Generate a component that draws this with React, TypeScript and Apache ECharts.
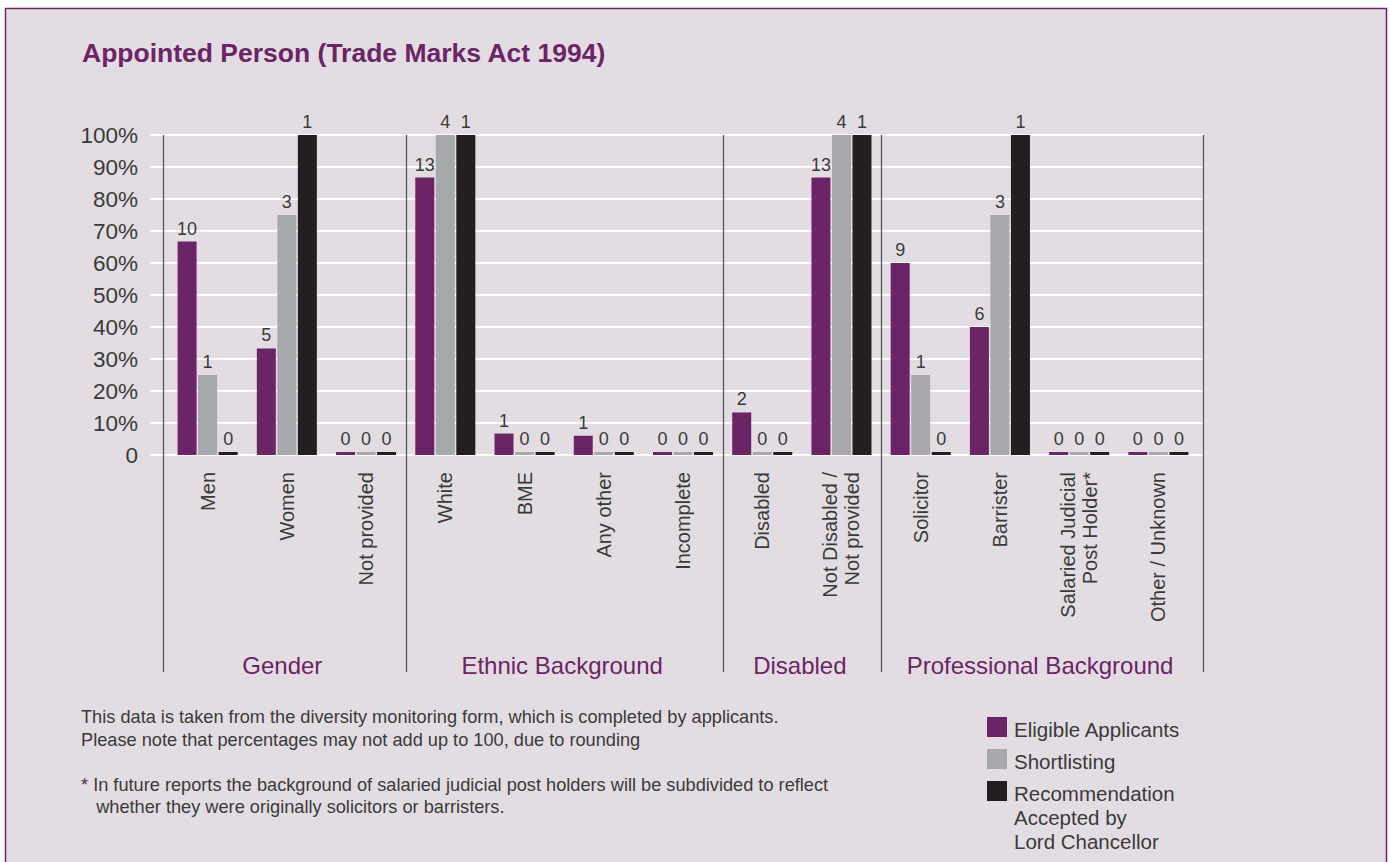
import React, { useEffect, useRef } from "react";
import * as echarts from "echarts";

const categories = [
  "Men",
  "Women",
  "Not provided",
  "White",
  "BME",
  "Any other",
  "Incomplete",
  "Disabled",
  "Not Disabled /\nNot provided",
  "Solicitor",
  "Barrister",
  "Salaried Judicial\nPost Holder*",
  "Other / Unknown",
];
const groupNames = ["Gender", "Ethnic Background", "Disabled", "Professional Background"];
const groupSizes = [3, 4, 2, 4];

const seriesNames = ["Eligible Applicants", "Shortlisting", "Recommendation\nAccepted by\nLord Chancellor"];
const seriesColors = ["#6b2466", "#a7a8ab", "#231f20"];

const eligiblePct = [66.7, 33.3, 0, 86.7, 6.7, 6, 0, 13.3, 86.7, 60, 40, 0, 0];
const eligibleCount = [10, 5, 0, 13, 1, 1, 0, 2, 13, 9, 6, 0, 0];
const shortlistPct = [25, 75, 0, 100, 0, 0, 0, 0, 100, 25, 75, 0, 0];
const shortlistCount = [1, 3, 0, 4, 0, 0, 0, 0, 4, 1, 3, 0, 0];
const recommendPct = [0, 100, 0, 100, 0, 0, 0, 0, 100, 0, 100, 0, 0];
const recommendCount = [0, 1, 0, 1, 0, 0, 0, 0, 1, 0, 1, 0, 0];

const yMax = 100;
const yInterval = 10;

const title = "Appointed Person (Trade Marks Act 1994)";
const notes = [
  "This data is taken from the diversity monitoring form, which is completed by applicants.",
  "Please note that percentages may not add up to 100, due to rounding",
];
const footnote = [
  "* In future reports the background of salaried judicial post holders will be subdivided to reflect",
  "   whether they were originally solicitors or barristers.",
];

const FONT = "'Liberation Sans', Arial, sans-serif";
const PURPLE = "#6b2466";
const TEXT = "#3a3a3a";
const BG = "#e3dde3";

export default function App() {
  const ref = useRef<HTMLDivElement>(null);

  useEffect(() => {
    if (!ref.current) return;
    const chart = echarts.init(ref.current, undefined, { renderer: "svg" });

    const pcts = [eligiblePct, shortlistPct, recommendPct];
    const counts = [eligibleCount, shortlistCount, recommendCount];

    const series = pcts.map((d, si) => ({
      name: seriesNames[si],
      type: "bar",
      data: d,
      barWidth: 19,
      barGap: "8%",
      barMinHeight: 3,
      itemStyle: { color: seriesColors[si] },
      label: {
        show: true,
        position: "top",
        distance: 4,
        color: TEXT,
        fontSize: 18,
        fontFamily: FONT,
        formatter: (p: any) => String(counts[si][p.dataIndex]),
      },
    }));

    const yCommon = {
      type: "value",
      min: 0,
      max: yMax,
      interval: yInterval,
      axisLine: { show: false },
    };

    const base: any = {
      animation: false,
      backgroundColor: BG,
      title: {
        text: title,
        left: 77,
        top: 34,
        textStyle: { color: PURPLE, fontSize: 26.5, fontWeight: "bold", fontFamily: FONT },
      },
      grid: { left: 168, right: 192, top: 135, bottom: 407, containLabel: false },
      xAxis: {
        type: "category",
        data: categories,
        axisLine: { show: false },
        axisTick: { show: false },
        axisLabel: {
          rotate: 90,
          interval: 0,
          margin: 17,
          color: TEXT,
          fontSize: 20,
          fontFamily: FONT,
          lineHeight: 22,
        },
      },
      yAxis: [
        {
          ...yCommon,
          position: "left",
          axisTick: { show: true, length: 18, lineStyle: { color: "#ffffff", width: 2 } },
          splitLine: { show: true, lineStyle: { color: "#ffffff", width: 2 } },
          axisLabel: {
            margin: 30,
            color: TEXT,
            fontSize: 22.5,
            fontFamily: FONT,
            formatter: (v: number) => (v === 0 ? "0" : v + "%"),
          },
        },
        {
          ...yCommon,
          position: "right",
          axisTick: { show: true, length: 5, lineStyle: { color: "#ffffff", width: 2 } },
          splitLine: { show: false },
          axisLabel: { show: false },
        },
      ],
      series,
    };

    chart.setOption(base);

    // structural graphics derived from axes
    const c0 = chart.convertToPixel({ xAxisIndex: 0 }, 0) as number;
    const c1 = chart.convertToPixel({ xAxisIndex: 0 }, 1) as number;
    const band = c1 - c0;
    const leftEdge = c0 - band / 2;
    const yTop = chart.convertToPixel({ yAxisIndex: 0 }, yMax) as number;
    const lineBottom = 672;
    const total = categories.length;

    const graphics: any[] = [];
    let idx = 0;
    const bounds = [0];
    groupSizes.forEach((s) => {
      idx += s;
      bounds.push(idx);
    });
    const boundX = (b: number) => {
      if (b === 0) return leftEdge - 5;
      if (b === total) return leftEdge + total * band + 5;
      return leftEdge + b * band;
    };
    bounds.forEach((b) => {
      const x = Math.round(boundX(b)) + 0.5;
      graphics.push({
        type: "line",
        shape: { x1: x, y1: yTop, x2: x, y2: lineBottom },
        style: { stroke: "#58585a", lineWidth: 1.3 },
        z: 10,
      });
    });
    groupNames.forEach((g, i) => {
      const cx = (boundX(bounds[i]) + boundX(bounds[i + 1])) / 2;
      graphics.push({
        type: "text",
        x: cx - 2,
        y: 665,
        style: {
          text: g,
          fill: PURPLE,
          fontSize: 24,
          fontFamily: FONT,
          align: "center",
          verticalAlign: "middle",
        },
        z: 10,
      });
    });

    // footnotes
    notes.forEach((t, i) => {
      graphics.push({
        type: "text",
        x: 81,
        y: 717 + i * 23,
        style: { text: t, fill: TEXT, fontSize: 18.2, fontFamily: FONT, verticalAlign: "middle" },
        z: 10,
      });
    });
    footnote.forEach((t, i) => {
      graphics.push({
        type: "text",
        x: 81,
        y: 785 + i * 22,
        style: { text: t, fill: TEXT, fontSize: 18.2, fontFamily: FONT, verticalAlign: "middle" },
        z: 10,
      });
    });

    // legend
    seriesNames.forEach((n, i) => {
      const top = 717 + i * 32;
      graphics.push({
        type: "rect",
        shape: { x: 987, y: top, width: 20, height: 20 },
        style: { fill: seriesColors[i] },
        z: 10,
      });
      graphics.push({
        type: "text",
        x: 1014,
        y: top,
        style: {
          text: n,
          fill: TEXT,
          fontSize: 20.5,
          fontFamily: FONT,
          lineHeight: 24,
          verticalAlign: "top",
        },
        z: 10,
      });
    });

    // page margins and frame
    graphics.push(
      { type: "rect", shape: { x: 0, y: 0, width: 1390, height: 8 }, style: { fill: "#ffffff" }, z: 20 },
      { type: "rect", shape: { x: 0, y: 0, width: 5, height: 862 }, style: { fill: "#ffffff" }, z: 20 },
      { type: "rect", shape: { x: 1387, y: 0, width: 3, height: 862 }, style: { fill: "#ffffff" }, z: 20 },
      {
        type: "rect",
        shape: { x: 5.5, y: 8.5, width: 1381, height: 900 },
        style: { fill: "none", stroke: PURPLE, lineWidth: 1.5 },
        z: 21,
      }
    );

    chart.setOption({ graphic: graphics });

    return () => chart.dispose();
  }, []);

  return (
    <div
      ref={ref}
      style={{ position: "fixed", left: 0, top: 0, width: 1390, height: 862 }}
    />
  );
}
